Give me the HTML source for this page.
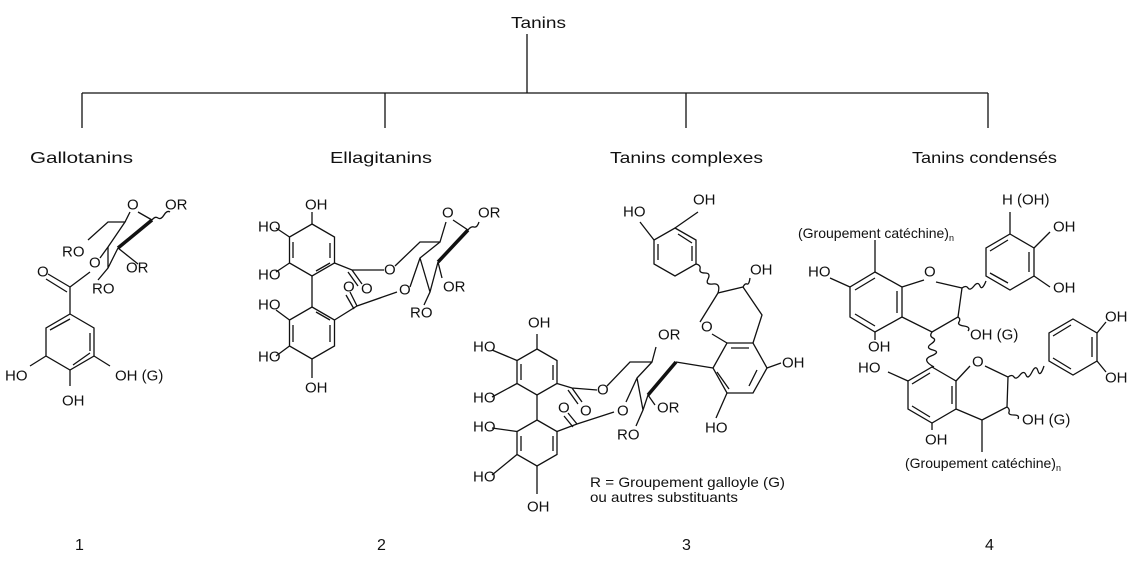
<!DOCTYPE html>
<html><head><meta charset="utf-8"><style>
html,body{margin:0;padding:0;background:#fff}
svg{display:block}
text{font-family:"Liberation Sans",sans-serif;fill:#111}
.l{font-size:15px;dominant-baseline:central}
.t{font-size:16px}
</style></head><body>
<svg width="1140" height="573" viewBox="0 0 1140 573" xmlns="http://www.w3.org/2000/svg">
<g stroke="#111" stroke-width="1.3" fill="none">
<!-- tree -->
<path d="M527 34V93M82 93H988M82 93V128M385 93V128M686 93V128M988 93V128"/>
<!-- struct 1 -->
<polygon points="70,314 94,328 94,356 70,370 46,356 46,328"/>
<path d="M50 330 70 319M90 333V351M73 365 90 353"/>
<path d="M70 314V287M70 287 48 274M67 292 46 279M70 287 90 272M46 356 30 366M70 370V386M94 356 110 366"/>
<path d="M100 258 108 247 125 222 108 222 88 240M125 222 130 212M138 212 152 220M152 220q3-4 6-2t6-3 6-3"/>
<path d="M152 220 118 248" stroke-width="3.5"/>
<path d="M118 248 138 264M118 248 108 268 98 280M108 247 108 268"/>
<!-- struct 2 -->
<polygon points="312,224 334.5,237 334.5,263 312,276 289.5,263 289.5,237"/>
<polygon points="312,307 334.5,320 334.5,346 312,359 289.5,346 289.5,320"/>
<path d="M293 242 293 258M330 243 330 258M316 271 330 263M316 312 330 320M330 325 330 342M293 325 293 342" />
<path d="M312 276V307M312 224V212M289.5 237 276 228M289.5 263 276 272M289.5 320 276 310M289.5 346 276 356M312 359V378"/>
<path d="M334.5 263 352 270 384 270M352 270 362 284M348 272 358 286M334.5 320 357 306 397 292M357 306 350 292M354 309 346 295"/>
<path d="M395 266 420 242 440 242 446 222M453 220 468 230q3-4 6-3t5-5"/>
<path d="M468 230 438 262" stroke-width="3.5"/>
<path d="M438 262 442 278M438 262 430 292 424 305M410 287 420 258 440 242M420 258 430 292"/>
<!-- struct 3 ellagic -->
<polygon points="537,349 557,360.5 557,383.5 537,395 517,383.5 517,360.5"/>
<polygon points="537,420 557,431.5 557,454.5 537,466 517,454.5 517,431.5"/>
<path d="M521 364V380M553 365V380M553 436V451M521 436V451M537 395V420M537 349V334M517 360.5 492 350M517 383.5 492 397M517 431.5 492 428M517 454.5 492 475M537 466V494"/>
<path d="M557 383.5 572 388 597 390M572 388 582 402M568 390 578 404M557 431.5 577 424 614 412M577 424 568 413M573 427 564 416"/>
<path d="M607 386 630 362 652 362 656 347M652 362 637 378 626 402M637 378 643 410 636 426M643 410 648 395 655 405"/>
<path d="M648 395 676 362" stroke-width="3.5"/>
<path d="M676 362 713 368"/>
<!-- chroman -->
<polygon points="727,343 753,343 767,368 753,393 727,393 713,368"/>
<path d="M731 348H749M757 370 749 386M717 372 729 389"/>
<path d="M727 343 712 334M700 322 718 293 743 287 762 315 753 343M767 368 781 363M727 393 716 418"/>
<path d="M743 287q2-4 4-3t3-6"/>
<polygon points="675,228 696,240 696,264 675,276 654,264 654,240"/>
<path d="M678 234 692 243M692 246V261M658 244V260"/>
<path d="M654 240 640 222M675 228 698 212"/>
<path d="M696 264q5 1 4 5t5 4 3 6 5 5 5 9"/>
<!-- struct 4 -->
<polygon points="875,272 902,287 902,317 875,332 850,317 850,287"/>
<path d="M855 290 875 278M897 291V313M855 314 875 326"/>
<path d="M875 272V240M850 287 830 278M875 332V340M902 287 924 280M936 282 962 288 958 317 932 332 902 317"/>
<polygon points="1010,234 1034,248 1034,276 1010,290 986,276 986,248"/>
<path d="M990 251 1008 240M1029 252V272M990 273 1008 283"/>
<path d="M1010 234V212M1034 248 1050 232M1034 276 1050 287"/>
<path d="M962 288q4-3 6 0t6-2 6 0 6-5M958 317q3 2 1 5t5 4 4 5M932 332q-3 4 1 6t-2 6 2 6 -2 6 3 11"/>
<polygon points="932,367 956,381 956,409 932,423 908,409 908,381"/>
<path d="M912 384 930 373M952 386V404M912 406 930 417"/>
<path d="M908 381 888 372M932 423V430M956 381 970 366M985 366 1008 377 1007 407 982 420 956 409M982 420V452"/>
<polygon points="1073,319 1097,333 1097,361 1073,375 1049,361 1049,333"/>
<path d="M1053 336 1071 325M1092 337V357M1053 358 1071 369M1097 333 1106 322M1097 361 1106 372"/>
<path d="M1008 377q4-3 6 0t6-2 6 0 6-3 6-1 6-5M1007 407q3 2 2 5t5 3 4 4"/>
</g>
<g>
<text class="t" x="511" y="28" textLength="55" lengthAdjust="spacingAndGlyphs">Tanins</text>
<text class="t" x="30" y="163" textLength="103" lengthAdjust="spacingAndGlyphs">Gallotanins</text>
<text class="t" x="330" y="163" textLength="102" lengthAdjust="spacingAndGlyphs">Ellagitanins</text>
<text class="t" x="610" y="163" textLength="153" lengthAdjust="spacingAndGlyphs">Tanins complexes</text>
<text class="t" x="912" y="163" textLength="145" lengthAdjust="spacingAndGlyphs">Tanins condensés</text>
<text class="t" x="75" y="550">1</text>
<text class="t" x="377" y="550">2</text>
<text class="t" x="682" y="550">3</text>
<text class="t" x="985" y="550">4</text>
<!-- struct 1 -->
<text class="l" x="127" y="205">O</text><text class="l" x="165" y="205">OR</text>
<text class="l" x="62" y="252">RO</text><text class="l" x="89" y="263">O</text>
<text class="l" x="126" y="268">OR</text><text class="l" x="92" y="289">RO</text>
<text class="l" x="37" y="272">O</text>
<text class="l" x="5" y="376">HO</text><text class="l" x="115" y="376">OH (G)</text>
<text class="l" x="62" y="401">OH</text>
<!-- struct 2 -->
<text class="l" x="305" y="205">OH</text><text class="l" x="258" y="227">HO</text>
<text class="l" x="258" y="275">HO</text><text class="l" x="258" y="305">HO</text>
<text class="l" x="258" y="357">HO</text><text class="l" x="305" y="388">OH</text>
<text class="l" x="384" y="270">O</text><text class="l" x="343" y="287">O</text><text class="l" x="361" y="289">O</text>
<text class="l" x="399" y="290">O</text><text class="l" x="442" y="213">O</text>
<text class="l" x="478" y="213">OR</text><text class="l" x="443" y="287">OR</text><text class="l" x="410" y="313">RO</text>
<!-- struct 3 -->
<text class="l" x="623" y="212">HO</text><text class="l" x="693" y="200">OH</text>
<text class="l" x="750" y="270">OH</text><text class="l" x="701" y="327">O</text>
<text class="l" x="782" y="363">OH</text><text class="l" x="705" y="428">HO</text>
<text class="l" x="528" y="323">OH</text><text class="l" x="473" y="347">HO</text>
<text class="l" x="473" y="398">HO</text><text class="l" x="473" y="427">HO</text>
<text class="l" x="473" y="477">HO</text><text class="l" x="527" y="507">OH</text>
<text class="l" x="658" y="335">OR</text><text class="l" x="657" y="408">OR</text><text class="l" x="617" y="435">RO</text>
<text class="l" x="597" y="390">O</text><text class="l" x="617" y="411">O</text>
<text class="l" x="558" y="408">O</text><text class="l" x="580" y="411">O</text>
<text class="l" x="590" y="482" style="font-size:14px" textLength="195" lengthAdjust="spacingAndGlyphs">R = Groupement galloyle (G)</text>
<text class="l" x="590" y="497" style="font-size:14px" textLength="148" lengthAdjust="spacingAndGlyphs">ou autres substituants</text>
<!-- struct 4 -->
<text class="l" x="1002" y="200">H (OH)</text>
<text class="l" x="798" y="233" style="font-size:14px">(Groupement catéchine)<tspan font-size="9" dy="5">n</tspan></text>
<text class="l" x="1053" y="227">OH</text><text class="l" x="1053" y="288">OH</text>
<text class="l" x="808" y="272">HO</text><text class="l" x="924" y="272">O</text>
<text class="l" x="970" y="335">OH (G)</text><text class="l" x="868" y="347">OH</text>
<text class="l" x="858" y="368">HO</text><text class="l" x="972" y="362">O</text>
<text class="l" x="1105" y="317">OH</text><text class="l" x="1105" y="378">OH</text>
<text class="l" x="1022" y="420">OH (G)</text><text class="l" x="925" y="440">OH</text>
<text class="l" x="905" y="463" style="font-size:14px">(Groupement catéchine)<tspan font-size="9" dy="5">n</tspan></text>
</g>
</svg>
</body></html>
